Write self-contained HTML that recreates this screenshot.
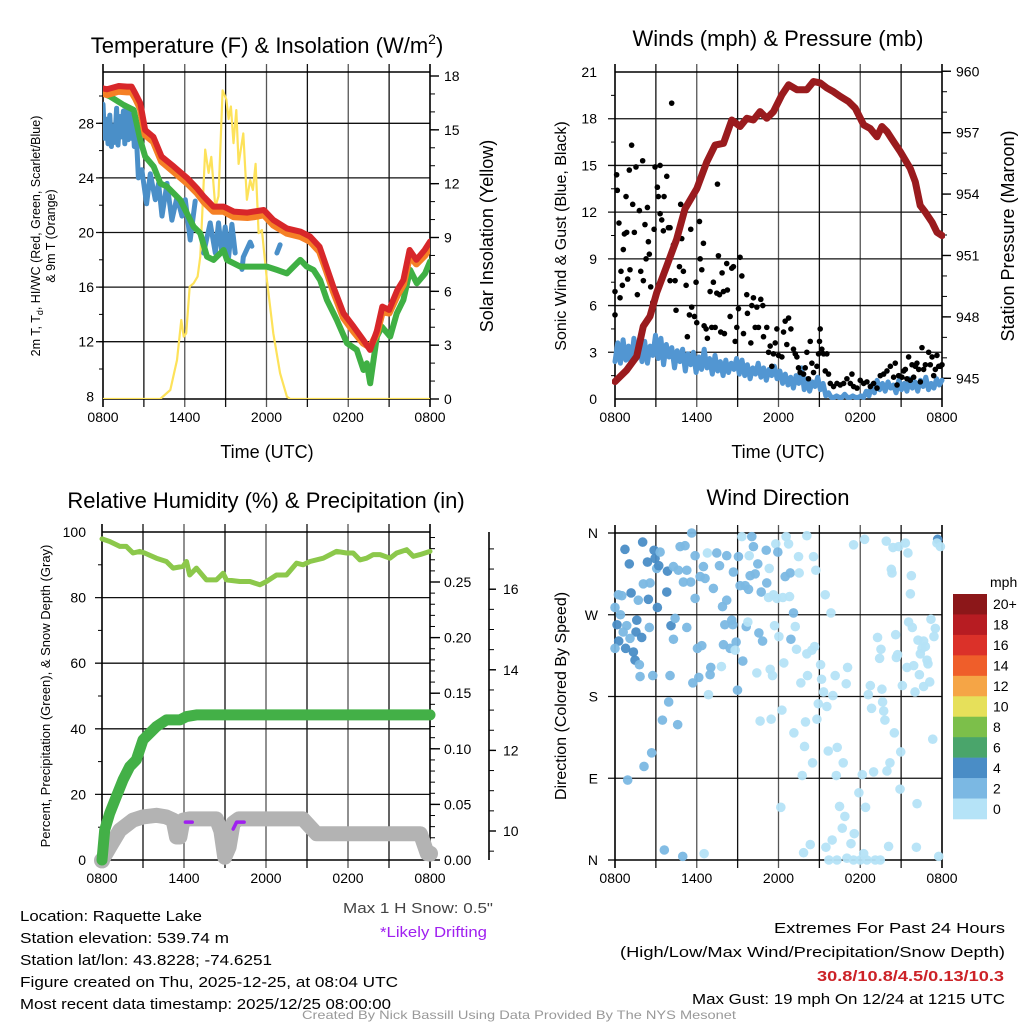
<!DOCTYPE html>
<html><head><meta charset="utf-8"><style>
html,body{margin:0;padding:0;background:#fff;}
svg{display:block;font-family:"Liberation Sans",Arial,sans-serif;}
</style></head><body>
<svg id="chart" xmlns="http://www.w3.org/2000/svg" width="1024" height="1024" viewBox="0 0 1024 1024">
<rect width="1024" height="1024" fill="#fff"/>
<g font-size="22" text-anchor="middle" fill="#000">
<text x="267" y="53">Temperature (F) &amp; Insolation (W/m<tspan dy="-9" font-size="14">2</tspan><tspan dy="9">)</tspan></text>
<text x="778" y="46">Winds (mph) &amp; Pressure (mb)</text>
<text x="266" y="508">Relative Humidity (%) &amp; Precipitation (in)</text>
<text x="778" y="505">Wind Direction</text>
</g>
<g fill="#000">
<text x="267" y="458" font-size="18" text-anchor="middle">Time (UTC)</text>
<text x="778" y="458" font-size="18" text-anchor="middle">Time (UTC)</text>
<text transform="translate(40,236) rotate(-90)" font-size="12.5" text-anchor="middle">2m T, T<tspan dy="3" font-size="9">d</tspan><tspan dy="-3">, HI/WC (Red, Green, Scarlet/Blue)</tspan></text>
<text transform="translate(55,236) rotate(-90)" font-size="12.5" text-anchor="middle">&amp; 9m T (Orange)</text>
<text transform="translate(493,236) rotate(-90)" font-size="18" text-anchor="middle">Solar Insolation (Yellow)</text>
<text transform="translate(566,236) rotate(-90)" font-size="16" text-anchor="middle">Sonic Wind &amp; Gust (Blue, Black)</text>
<text transform="translate(1014,236) rotate(-90)" font-size="18" text-anchor="middle">Station Pressure (Maroon)</text>
<text transform="translate(50,696) rotate(-90)" font-size="13" text-anchor="middle">Percent, Precipitation (Green), &amp; Snow Depth (Gray)</text>
<text transform="translate(566,696) rotate(-90)" font-size="16" text-anchor="middle">Direction (Colored By Speed)</text>
</g>
<g id="plots"></g>
<g font-size="15" fill="#000">
<text x="20" y="921" textLength="182" lengthAdjust="spacingAndGlyphs">Location: Raquette Lake</text>
<text x="20" y="943" textLength="209" lengthAdjust="spacingAndGlyphs">Station elevation: 539.74 m</text>
<text x="20" y="965" textLength="252" lengthAdjust="spacingAndGlyphs">Station lat/lon: 43.8228; -74.6251</text>
<text x="20" y="987" textLength="378" lengthAdjust="spacingAndGlyphs">Figure created on Thu, 2025-12-25, at 08:04 UTC</text>
<text x="20" y="1009" textLength="371" lengthAdjust="spacingAndGlyphs">Most recent data timestamp: 2025/12/25 08:00:00</text>
<text x="343" y="913" fill="#444" textLength="150" lengthAdjust="spacingAndGlyphs">Max 1 H Snow: 0.5"</text>
<text x="380" y="937" fill="#a020f0" textLength="107" lengthAdjust="spacingAndGlyphs">*Likely Drifting</text>
<text x="774" y="933" textLength="231" lengthAdjust="spacingAndGlyphs">Extremes For Past 24 Hours</text>
<text x="620" y="957" textLength="385" lengthAdjust="spacingAndGlyphs">(High/Low/Max Wind/Precipitation/Snow Depth)</text>
<text x="817" y="981" fill="#cc2227" font-weight="bold" textLength="187" lengthAdjust="spacingAndGlyphs">30.8/10.8/4.5/0.13/10.3</text>
<text x="692" y="1004" textLength="313" lengthAdjust="spacingAndGlyphs">Max Gust: 19 mph On 12/24 at 1215 UTC</text>
<text x="302" y="1019" font-size="12" fill="#999" textLength="434" lengthAdjust="spacingAndGlyphs">Created By Nick Bassill Using Data Provided By The NYS Mesonet</text>
</g>
</svg>
<script>
// ---------- data (hours since 0800 UTC) ----------
const xTickLabels = ["0800","1400","2000","0200","0800"];
const redH = [0,0.3,1.15,1.76,2.1,2.37,2.74,3.1,3.7,4.3,5.2,6.2,6.9,7.4,8.1,8.85,9.6,10.6,11.05,11.8,12.5,13.5,14.5,15.2,15.9,16.4,16.9,17.65,18.4,19.1,19.6,20.1,20.5,21,21.6,22.05,22.5,23.0,23.6,24];
const redT = [30.56,30.49,30.73,30.69,30.69,30.2,29.47,27.5,27.0,25.56,24.83,23.97,23.24,22.63,21.9,21.9,21.53,21.46,21.53,21.65,20.92,20.3,20.06,19.7,18.95,17.5,16.03,14.08,13.1,12.13,11.4,12.8,14.57,14.33,15.79,16.52,18.72,18.0,18.72,19.33];
const orangeT = [30.2,30.1,30.35,30.3,30.3,29.85,29.1,27.15,26.65,25.2,24.45,23.6,22.9,22.25,21.55,21.55,21.15,21.1,21.15,21.3,20.55,19.95,19.7,19.35,18.6,17.2,15.7,13.75,12.75,11.9,11.6,12.6,14.2,14.1,15.4,16.2,18.3,17.7,18.3,18.9];
const greenH = [0,0.54,1.52,2.25,2.74,3.1,3.72,4.21,4.7,5.67,6.28,6.65,7.14,7.63,8.12,8.85,9.1,10.07,11.05,12.03,12.76,13.5,14.48,14.96,15.45,15.94,16.43,17.16,17.9,18.63,19.12,19.36,19.61,20.1,20.46,21.08,21.56,22.05,22.54,23.03,23.64,24];
const greenT = [30.2,29.95,29.34,28.98,26.78,25.56,24.83,23.6,23.36,22.38,21.16,20.43,19.94,18.23,17.99,18.72,17.99,17.5,17.5,17.5,17.26,17.0,17.99,17.5,17.26,16.5,15.06,13.6,11.9,11.4,9.93,10.42,8.95,12.37,13.1,12.37,14.08,15.06,17.26,16.28,17.0,17.87];
const blueH = [0,0.12,0.25,0.37,0.5,0.62,0.74,0.86,1.0,1.1,1.25,1.35,1.5,1.6,1.72,1.84,1.96,2.1,2.2,2.3,2.45,2.6,2.85,3.2,3.47,3.84,4.08,4.33,4.7,5.06,5.43,5.8,6.04,6.4,6.77,6.9,7.38,7.87,8.24,8.48,8.73,8.97,9.22,9.46,9.7,9.8,10.2,10.3,10.8,10.93,11.0,12.76,13.0];
const blueT = [29.4,26.9,28.3,26.5,28.6,26.3,27.8,26.6,29.1,26.4,28.5,27.0,28.9,26.5,29.0,26.8,28.8,26.9,28.3,26.3,27.0,24.0,24.6,22.1,24.3,22.4,23.6,21.2,23.6,20.9,22.6,21.2,22.4,19.45,22.3,null,18.5,20.7,18.5,20.7,18.5,20.4,18.2,20.6,18.5,null,17.3,18.2,19.3,19.0,null,18.5,19.1];
const solarH = [0,4.2,4.94,5.43,5.75,5.92,6.11,6.36,6.65,6.94,7.14,7.5,7.75,7.95,8.24,8.48,8.78,9.05,9.22,9.39,9.58,9.78,9.95,10.3,10.56,10.8,11.0,11.2,11.42,11.66,12.03,12.5,13.0,13.5,13.74,24];
const solarV = [0,0,0.5,2.17,4.4,3.48,3.66,6.26,6.45,6.82,7.94,13.9,12.6,13.5,10.7,11.3,17.2,16.7,15.6,16.3,14.26,16.1,13.1,14.8,11.1,12.2,11.65,13.1,9.24,9.42,6.64,3.66,1.43,0.13,0,0];
const tempTicks = [8,12,16,20,24,28];
const solarTicks = [0,3,6,9,12,15,18];

const presH = [0,0.86,1.59,2.08,2.57,3.06,3.8,4.53,5.14,6.0,6.74,7.35,7.96,8.57,9.18,9.67,10.16,10.65,11.14,11.63,12.25,12.74,13.35,14.08,14.57,15.06,15.55,16.04,16.53,17.14,17.63,18.25,18.74,19.23,19.59,19.96,20.45,20.94,21.67,22.04,22.4,22.78,23.27,23.63,24];
const presV = [944.84,945.4,946.07,947.54,948.03,949.18,950.49,951.8,953.28,954.26,955.57,956.39,956.48,957.62,957.3,957.7,957.62,958.03,957.7,958.03,958.85,959.34,959.1,959.1,959.5,959.43,959.18,959.0,958.77,958.52,958.2,957.38,957.2,956.8,957.3,957.05,956.56,956.07,955.25,954.6,953.44,953.11,952.62,952.13,951.97];
const windV = [2.4,3.6,2.3,3.8,2.5,3.4,2.2,3.9,2.6,3.5,2.4,3.7,2.3,3.4,2.8,4.1,
2.6,3.9,2.2,3.5,2.7,3.3,2.0,3.1,2.4,3.2,1.8,2.9,2.2,3.0,1.7,
2.7,1.9,3.2,2.0,2.6,1.6,2.8,1.8,2.4,1.5,2.5,1.7,2.3,1.9,2.6,
1.6,2.5,1.5,2.2,1.3,2.0,1.6,2.3,1.4,2.0,1.2,1.9,1.5,2.1,1.3,
1.8,1.0,1.6,0.9,1.4,0.7,1.5,1.0,2.0,0.6,1.3,0.5,1.1,0.8,1.4,
0.6,1.0,0.2,0.4,0.1,0.1,0.2,0.1,0.1,0.3,0.1,0.1,0.2,0.1,0.1,
0.2,0.1,0.5,0.2,0.9,0.4,1.2,0.6,1.0,0.5,1.1,0.7,0.9,0.4,1.2,
0.6,1.0,0.5,1.3,0.7,1.1,0.5,1.2,0.8,1.4,0.6,1.0,0.7,1.3,0.9,1.2];
const gustH = [0,0,0.12,0.17,0.29,0.37,0.44,0.54,0.61,0.69,0.86,0.81,0.93,1.05,1.1,1.22,1.3,1.42,1.54,1.64,1.79,1.89,2.03,2.08,2.2,2.28,2.38,2.45,2.52,2.62,2.77,2.87,2.94,3.11,3.18,3.31,3.31,3.43,3.55,3.6,3.8,3.92,4.04,4.16,4.04,3.36,4.29,4.41,4.48,4.73,4.82,4.9,5.02,5.22,5.31,5.46,5.56,5.63,5.76,5.83,5.95,6.0,6.2,6.25,6.37,6.49,6.54,6.69,6.78,6.98,7.1,7.22,7.35,7.47,7.52,7.59,7.67,7.76,7.86,7.96,8.03,8.2,8.25,8.45,8.57,8.69,8.82,8.94,9.06,9.18,9.31,9.43,9.67,9.72,9.97,10.04,10.16,10.29,10.41,10.53,10.7,10.85,10.9,11.14,11.27,11.39,11.51,11.63,11.76,11.88,12.0,12.25,12.37,12.49,12.61,12.74,12.91,13.1,13.23,13.35,13.47,13.59,13.84,13.96,14.08,14.2,14.33,14.45,14.57,14.82,14.94,15.01,15.06,15.18,15.31,15.43,15.55,15.67,15.8,16.04,16.29,16.53,16.78,17.02,17.27,17.39,17.51,17.76,18.0,18.25,18.49,18.74,18.98,19.23,19.47,19.72,19.96,20.21,20.45,20.57,20.7,20.82,21.06,21.19,21.31,21.43,21.55,21.67,21.8,21.92,22.04,22.16,22.29,22.41,22.53,22.65,22.78,23.02,23.14,23.27,23.39,23.51,23.63,23.76,23.88,24];
const gustV = [6.9,5.4,14.4,13.4,11.3,6.5,8.2,7.3,9.6,10.6,10.7,13.0,7.7,14.7,8.3,16.3,12.5,10.7,14.9,6.7,12.1,8.2,15.3,7.6,11.2,9.0,12.3,10.1,9.3,7.2,6.2,10.9,14.9,13.6,13.0,15.0,11.9,11.5,10.8,13.0,14.3,11.0,11.0,19.0,7.6,7.6,9.9,7.6,5.7,8.5,12.5,10.3,8.2,7.3,4.0,5.4,10.9,5.9,13.1,5.3,7.5,4.9,11.4,9.0,8.3,10.0,4.7,4.5,3.9,6.9,4.6,7.5,4.6,6.8,13.8,9.2,6.7,4.3,8.1,6.9,4.2,8.7,7.0,5.3,8.4,8.5,3.7,4.6,5.8,9.1,7.9,4.2,6.7,5.5,3.6,6.0,6.5,4.6,5.9,4.6,6.4,6.0,4.0,4.6,3.0,3.4,2.1,2.9,3.6,4.5,2.8,2.7,4.3,5.0,3.5,5.2,4.5,3.2,2.9,2.7,2.0,1.7,1.6,2.0,3.0,1.3,3.7,2.3,1.7,2.1,2.9,3.7,4.5,3.2,2.9,1.8,2.9,1.6,1.0,0.8,1.0,0.9,1.0,1.3,1.0,1.6,0.8,0.7,1.2,1.0,1.1,0.8,1.0,0.7,1.5,1.6,1.8,2.1,1.4,2.3,0.9,1.5,1.4,1.8,1.9,1.3,2.7,1.2,2.2,1.4,2.1,2.3,1.9,1.1,3.3,1.9,2.2,3.0,2.2,2.7,1.5,1.9,2.8,2.1,2.1,2.2];
const windTicks = [0,3,6,9,12,15,18,21];
const presTicks = [945,948,951,954,957,960];

const rhH = [0,0.56,1.3,1.78,2.27,2.76,3.12,3.98,4.71,5.2,5.93,6.18,6.42,6.91,7.64,8.37,8.86,9.1,10.08,10.82,11.55,12.04,12.77,13.5,14.23,14.72,15.21,16.19,17.16,17.9,18.38,18.87,19.36,19.85,20.34,21.07,21.56,22.29,22.78,23.27,24];
const rhV = [97.9,97.1,95.6,95.6,93.6,94.1,93.6,92.0,91.0,89.0,89.5,91.0,86.9,89.0,85.4,85.4,87.4,85.4,84.9,84.9,83.9,84.9,86.9,86.9,90.5,90.0,91.0,92.0,94.1,93.6,93.6,91.5,92.0,93.1,93.1,92.0,93.6,94.6,92.6,93.1,94.1];
const precipH = [0,0.2,0.56,1.05,1.54,2.03,2.51,3.0,3.49,3.98,4.71,5.69,6.18,6.91,24];
const precipV = [0,0.027,0.042,0.057,0.072,0.084,0.09,0.108,0.114,0.12,0.126,0.126,0.129,0.1305,0.1305];
const snowH = [0,0.56,1.3,2.27,3.0,3.98,4.7,5.2,5.45,5.7,5.93,6.4,8.37,8.7,8.98,9.3,9.6,10.0,14.7,15.7,23.3,23.8,24];
const snowV = [9.27,9.6,10.02,10.27,10.35,10.39,10.35,10.27,9.85,9.85,10.27,10.3,10.3,10.0,9.35,9.6,10.2,10.3,10.3,9.93,9.93,9.44,9.44];
const driftH1 = [6.1,6.6];
const driftV1 = [10.22,10.22];
const driftH2 = [9.6,9.85,10.4];
const driftV2 = [10.05,10.22,10.22];
const rhTicks = [0,20,40,60,80,100];
const precipTicks = ["0.00","0.05","0.10","0.15","0.20","0.25"];
const snowTicks = [10,12,14,16];

const dirH = [
0.73,1.05,2.03,2.38,2.87,2.94,3.06,3.31,3.21,3.85,
3.8,4.29,4.65,5.27,4.78,5.14,5.63,5.88,5.02,5.56,
5.88,2.08,2.57,1.18,2.45,1.71,0.5,0.25,3.11,0,
0.4,0.15,0.86,1.6,0.6,1.54,1.96,1.1,0.27,0,
0.78,1.35,1.47,1.79,1.84,2.77,2.52,4.11,4.41,4.29,
5.27,4.04,6.05,6.37,5.71,6.15,6.98,7.03,6.86,7.81,
6.78,6.49,6.25,6.61,7.22,7.47,7.67,8.2,8.69,7.89,
8.2,8.06,8.57,8.65,7.96,8.45,8.89,8.82,9.38,8.99,
9.06,9.31,9.85,10.04,10.16,9.92,10.29,9.18,9.55,9.8,
10.73,11.14,10.48,11.1,11.32,11.8,11.95,12.56,12.74,11.27,
11.63,11.88,12.32,12.81,12.49,12.86,13.52,13.47,14.08,14.57,
14.74,13.1,13.23,11.71,9.63,9.75,10.56,10.83,12.03,12.91,
13.32,14.08,14.45,14.65,12.39,11.39,11.56,10.41,13.64,14.13,
15.09,15.43,15.85,15.16,15.31,15.99,16.16,17.07,16.97,14.92,
15.55,12.25,10.65,11.46,13.98,14.82,13.13,13.91,14.5,13.74,
15.65,16.31,16.75,16.24,12.17,16.48,16.87,16.68,17.56,17.32,
15.94,15.48,14.33,13.84,15.7,16.29,17.02,17.51,18.0,18.49,
19.1,19.47,18.25,17.9,18.39,18.15,18.98,19.96,20.18,20.97,
20.92,22.17,20.08,22.12,23.76,18.74,18.59,18.83,19.59,19.64,
19.72,19.81,20.5,19.27,19.52,19.42,20.6,20.74,20.65,21.09,
21.43,21.92,22.02,22.34,22.65,23.1,22.9,22.97,22.24,22.65,
22.53,22.41,22.78,23.19,23.51,23.41,21.55,21.82,21.68,21.75,
20.28,20.33,21.5,21.31,20.82,20.4,19.91,18.32,17.51,23.68,
23.63,23.88,23.32,2.69,2.13,0.93,3.48,3.94,4.6,3.62,4.97,6.54];
const dirDeg = [
342,326,350,328,341,332,321,339,324,318,
295,323,319,319,345,346,360,335,306,306,
288,304,305,294,287,286,291,292,278,278,
270,259,258,264,251,251,245,244,241,233,
233,229,220,215,202,203,256,258,266,243,
256,203,233,236,195,201,204,212,182,213,
338,323,312,310,299,338,324,335,317,279,
286,259,264,259,237,233,240,231,219,187,
334,356,335,356,345,313,315,302,302,298,
295,305,326,341,321,348,339,356,348,289,
292,288,289,290,312,316,316,334,357,334,
319,272,257,258,257,262,250,241,246,243,
232,227,231,235,217,210,203,206,195,203,
215,292,272,199,185,181,203,212,194,172,
169,165,153,155,152,155,140,125,107,93,
120,124,107,93,58,59,48,35,29,18,
22,14,17,8,0,0,2,0,0,0,
0,0,7,74,58,94,97,98,107,119,
78,62,15,14,4,192,182,167,188,174,
164,154,140,245,232,222,248,226,223,192,
212,214,185,204,191,196,220,216,242,241,
233,227,235,265,255,246,262,256,293,313,
320,316,338,349,345,344,351,353,347,353,
349,345,133,118,103,88,154,174,149,11,4,7];
const dirSpd = [
4.5,4.5,4.5,4.5,4.5,4.5,3,3,4.5,4.5,
4.5,3,3,3,3,3,3,3,3,3,
3,3,3,4.5,4.5,3,3,3,4.5,3,
3,4.5,3,4.5,3,4.5,4.5,3,4.5,3,
4.5,4.5,4.5,3,3,3,3,4.5,3,3,
3,3,3,3,3,3,3,3,1,1,
1,3,3,3,3,3,3,3,3,3,
3,3,3,3,3,3,3,1,3,3,
3,1,1,3,3,3,3,3,3,3,
3,3,3,3,1,1,3,1,1,1,
1,1,1,1,3,3,1,1,1,1,
1,3,1,1,3,1,3,3,1,3,
1,1,1,1,1,1,1,1,1,1,
1,1,1,1,1,1,1,1,1,1,
1,1,1,1,1,1,1,1,1,1,
1,1,1,1,1,1,1,1,1,1,
1,1,1,1,1,1,1,1,1,1,
1,1,1,1,1,1,1,1,1,1,
1,1,1,1,1,1,1,1,1,1,
1,1,1,1,1,1,1,1,1,1,
1,1,1,1,1,1,1,1,1,1,
1,1,1,1,1,1,1,1,1,1,
1,1,1,1,1,1,1,1,1,4.5,
1,1,1,3,3,3,3,3,3,3,3,1];
const dirTickLabels = ["N","E","S","W","N"];
const speedBins = ["0","2","4","6","8","10","12","14","16","18","20+"];
const speedColors = ["#b5e3f7","#7bb8e3","#4a8dc6","#4aa56b","#7cbf4a","#e6e05a","#f5a546","#ef5e2a","#db3129","#b71c22","#8c1719"];

// ---------- helpers ----------
const NS = "http://www.w3.org/2000/svg";
const root = document.getElementById("plots");
function mk(tag, attrs, parent) {
  const e = document.createElementNS(NS, tag);
  for (const k in attrs) e.setAttribute(k, attrs[k]);
  (parent || root).appendChild(e);
  return e;
}
function pathD(hs, vs, sx, sy) {
  let d = "", pen = false;
  for (let i = 0; i < hs.length; i++) {
    if (vs[i] === null || vs[i] === undefined) { pen = false; continue; }
    d += (pen ? "L" : "M") + sx(hs[i]).toFixed(1) + "," + sy(vs[i]).toFixed(1);
    pen = true;
  }
  return d;
}
function frame(g, x0, x1, y0, y1, hGrid, name) {
  const sx = h => x0 + h * (x1 - x0) / 24;
  for (let h = 3; h < 24; h += 3) {
    const l = mk("line", {x1: sx(h), x2: sx(h), y1: y0 - 8, y2: y1 + 8, stroke: (h % 6 === 0) ? "#555" : "#111", "stroke-width": 1.3}, g);
    
    
  }
  hGrid.forEach(y => {
    const l = mk("line", {x1: x0 - 7, x2: x1, y1: y, y2: y, stroke: "#111", "stroke-width": 1.3}, g);
    
    
  });
  const b = mk("path", {d: `M${x0},${y0 - 8}V${y1 + 8}M${x1},${y0 - 8}V${y1 + 8}M${x0},${y0}H${x1}M${x0},${y1}H${x1}`, stroke: "#000", "stroke-width": 1.6, fill: "none"}, g);
  
  
  xTickLabels.forEach((t, i) => {
    const tx = mk("text", {x: sx(i * 6), y: y1 + 23, "font-size": 14, "text-anchor": "middle"}, g);
    tx.textContent = t;
    
    
  });
  return sx;
}
function rightTicks(g, x, vals, sy, minorVals, name, labelFmt, len) {
  minorVals.forEach(v => {
    const l = mk("line", {x1: x, x2: x + 5, y1: sy(v), y2: sy(v), stroke: "#000", "stroke-width": 1}, g);
    
    
  });
  vals.forEach(v => {
    const l = mk("line", {x1: x, x2: x + (len || 9), y1: sy(+v), y2: sy(+v), stroke: "#000", "stroke-width": 1.4}, g);
    
    
    const t = mk("text", {x: x + 14, y: sy(+v) + 5, "font-size": 14}, g);
    t.textContent = labelFmt ? labelFmt(v) : v;
    
    
  });
}
function leftLabels(g, x, vals, sy, name, labels) {
  vals.forEach((v, i) => {
    const t = mk("text", {x: x, y: sy(v) + 5, "font-size": 14, "text-anchor": "end"}, g);
    t.textContent = labels ? labels[i] : v;
    
    
  });
}
function line(g, hs, vs, sx, sy, color, w, name) {
  const p = mk("path", {d: pathD(hs, vs, sx, sy), stroke: color, "stroke-width": w, fill: "none", "stroke-linejoin": "round", "stroke-linecap": "round"}, g);
  
  
  return p;
}
function range(a, b, s) { const r = []; for (let v = a; v <= b + 1e-9; v += s) r.push(+v.toFixed(4)); return r; }

// ---------- panel 1: temperature ----------
{
  const g = mk("g", {});  
  const x0 = 103, x1 = 430, y0 = 72, y1 = 399;
  const yT = t => 123.3 + (28 - t) * 13.65;
  const yS = v => 399 - v * (323 / 18);
  const sx = frame(g, x0, x1, y0, y1, tempTicks.filter(t => t > 8).map(yT), "temp");
  range(10, 30, 2).forEach(v => { const l = mk("line", {x1: x0 - 4, x2: x0, y1: yT(v), y2: yT(v), stroke: "#000"}, g);   });
  leftLabels(g, 94, tempTicks, yT, "temp-y");
  rightTicks(g, x1, solarTicks, yS, range(0, 18, 1), "solar-y");
  const clip = mk("clipPath", {id: "c1"}, g); mk("rect", {x: x0, y: y0 - 4, width: x1 - x0, height: y1 - y0 + 4}, clip);
  const dg = mk("g", {"clip-path": "url(#c1)"}, g);  
  line(dg, solarH, solarV, sx, yS, "#fde25a", 2.2, "solar-insolation-line");
  line(dg, blueH, blueT, sx, yT, "#4a8fc8", 5, "wind-chill-line");
  line(dg, greenH, greenT, sx, yT, "#3fb044", 6, "dewpoint-line");
  line(dg, redH, orangeT, sx, yT, "#f58025", 7, "temp-9m-line");
  line(dg, redH, redT, sx, yT, "#d8272a", 6, "temp-2m-line");
}
// ---------- panel 2: winds ----------
{
  const g = mk("g", {});  
  const x0 = 615, x1 = 942, y0 = 72, y1 = 399;
  const yW = w => 399 - w * (327 / 21);
  const yP = p => 378.3 - (p - 945) * 20.47;
  const sx = frame(g, x0, x1, y0, y1, windTicks.filter(w => w > 0 && w < 21).map(yW), "wind");
  range(1.5, 21, 3).forEach(v => { const l = mk("line", {x1: x0 - 4, x2: x0, y1: yW(v), y2: yW(v), stroke: "#000"}, g);   });
  leftLabels(g, 597, windTicks, yW, "wind-y");
  rightTicks(g, x1, presTicks, yP, range(945, 960, 1), "pressure-y");
  const clip = mk("clipPath", {id: "c2"}, g); mk("rect", {x: x0 - 3, y: y0 - 4, width: x1 - x0 + 6, height: y1 - y0 + 6}, clip);
  const dg = mk("g", {"clip-path": "url(#c2)"}, g);  
  const windH = windV.map((v, i) => i * 24 / (windV.length - 1));
  line(dg, windH, windV, sx, yW, "#5296d2", 5, "sonic-wind-line");
  gustH.forEach((h, i) => {
    const c = mk("circle", {cx: sx(h), cy: yW(gustV[i]), r: 2.8, fill: "#000"}, dg);
    
    
  });
  line(dg, presH, presV, sx, yP, "#9a1b1e", 7, "pressure-line");
}
// ---------- panel 3: humidity / precipitation ----------
{
  const g = mk("g", {});  
  const x0 = 102, x1 = 430, y0 = 532, y1 = 860;
  const yR = r => 860 - r * 3.28;
  const yPr = p => 860 - p * 1112;
  const ySn = s => 831 - (s - 10) * 40.3;
  const sx = frame(g, x0, x1, y0, y1, rhTicks.filter(r => r > 0 && r < 100).map(yR), "rh");
  range(10, 100, 20).forEach(v => { const l = mk("line", {x1: x0 - 4, x2: x0, y1: yR(v), y2: yR(v), stroke: "#000"}, g);   });
  leftLabels(g, 86, rhTicks, yR, "rh-y");
  rightTicks(g, x1, precipTicks, yPr, range(0, 0.29, 0.01), "precip-y", null, 10);
  const ax = mk("line", {x1: 489, x2: 489, y1: y0, y2: y1, stroke: "#000", "stroke-width": 1.6}, g);
   
  rightTicks(g, 489, snowTicks, ySn, range(9.5, 17, 0.5), "snow-y", null, 7);
  const clip = mk("clipPath", {id: "c3"}, g); mk("rect", {x: x0 - 10, y: y0 - 4, width: x1 - x0 + 20, height: y1 - y0 + 14}, clip);
  const dg = mk("g", {"clip-path": "url(#c3)"}, g);  
  line(dg, snowH, snowV, sx, ySn, "#b3b3b3", 15, "snow-depth-line");
  [[snowH[0], snowV[0]], [snowH[snowH.length - 1], snowV[snowV.length - 1]]].forEach(p => {
    const c = mk("circle", {cx: sx(p[0]), cy: ySn(p[1]), r: 8, fill: "#b3b3b3"}, dg);
     
  });
  line(dg, driftH1, driftV1, sx, ySn, "#a020f0", 3.5, "drifting-segment");
  line(dg, driftH2, driftV2, sx, ySn, "#a020f0", 3.5, "drifting-segment");
  line(dg, precipH, precipV, sx, yPr, "#43b047", 11, "precipitation-line");
  line(dg, rhH, rhV, sx, yR, "#8cc84b", 5, "relative-humidity-line");
}
// ---------- panel 4: wind direction ----------
{
  const g = mk("g", {});  
  const x0 = 615, x1 = 942, y0 = 533, y1 = 860;
  const yD = d => 860 - d * (327 / 360);
  const sx = frame(g, x0, x1, y0, y1, [90, 180, 270].map(yD), "dir");
  [0, 360].forEach(d => { const l = mk("line", {x1: x0 - 7, x2: x0, y1: yD(d), y2: yD(d), stroke: "#000", "stroke-width": 1.3}, g);   });
  leftLabels(g, 598, [0, 90, 180, 270, 360], yD, "dir-y", dirTickLabels);
  const binColor = s => speedColors[Math.min(10, Math.floor(s / 2))];
  const dg = mk("g", {}, g);  
  dirH.forEach((h, i) => {
    const c = mk("circle", {cx: sx(h), cy: yD(dirDeg[i]), r: 4.8, fill: binColor(dirSpd[i]), "fill-opacity": 0.95}, dg);
    
    
  });
  const cb = mk("g", {}, g);  
  const t0 = mk("text", {x: 990, y: 587, "font-size": 14}, cb); t0.textContent = "mph";
   
  const bh = 225 / speedBins.length;
  speedBins.forEach((lab, i) => {
    const k = speedBins.length - 1 - i;
    const r = mk("rect", {x: 953, y: 594 + i * bh, width: 34, height: bh + 0.3, fill: speedColors[k]}, cb);
    
    
    const t = mk("text", {x: 993, y: 594 + i * bh + bh / 2 + 5, "font-size": 14}, cb);
    t.textContent = speedBins[k];
    
    
  });
}
</script>
</body></html>
